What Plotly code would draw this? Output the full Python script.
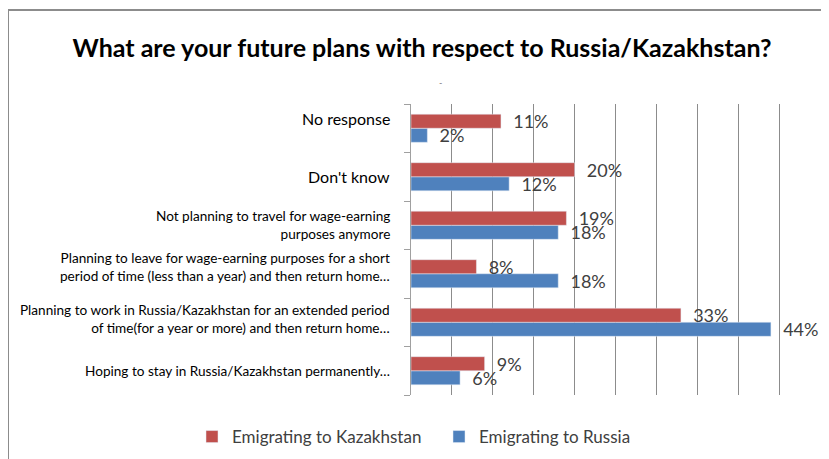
import plotly.graph_objects as go

categories = [
    "Hoping to stay in Russia/Kazakhstan permanently…",
    "Planning to work in Russia/Kazakhstan for an extended period<br>of time(for a year or more) and then return home…",
    "Planning to leave for wage-earning purposes for a short<br>period of time (less than a year) and then return home…",
    "Not planning to travel for wage-earning<br>purposes anymore",
    "Don't know",
    "No response",
]
kazakhstan = [9, 33, 8, 19, 20, 11]
russia = [6, 44, 18, 18, 12, 2]
x_ticks = [0, 5, 10, 15, 20, 25, 30, 35, 40, 45, 50]

# styling for the category labels (vertical nudge in px, font size)
label_yshift = [0, 3, 7, 0, 0, 10]
label_size = [13.6, 13.6, 13.6, 13.6, 16, 16]

label_font = dict(family="Lato", size=18, color="#404040")
PAD = "\u00a0\u00a0"

fig = go.Figure()
fig.add_trace(go.Bar(
    y=categories, x=russia, orientation="h", name="Emigrating to Russia",
    marker=dict(color="#4F81BD"), text=[f"{PAD}{v}%" for v in russia],
    textposition="outside", textfont=label_font, cliponaxis=False,
    constraintext="none", legend="legend2",
))
fig.add_trace(go.Bar(
    y=categories, x=kazakhstan, orientation="h", name="Emigrating to Kazakhstan",
    marker=dict(color="#C0504D"), text=[f"{PAD}{v}%" for v in kazakhstan],
    textposition="outside", textfont=label_font, cliponaxis=False,
    constraintext="none", legend="legend",
))

# page body has an 8px margin, so lay out in reference pixels minus 8
OFF = 8
W, H = 829 - OFF, 459 - OFF
L, R, T, B = 411 - OFF, 820 - OFF, 104 - OFF, 395 - OFF
pw, ph = R - L, B - T

def px(x):
    return (x - OFF - L) / pw

def py(y):
    return (B - (y - OFF)) / ph

legend_font = dict(family="Lato", size=17, color="#404040")

annotations = [dict(text="-", x=px(437), y=py(75), xref="paper", yref="paper",
                    showarrow=False, font=dict(size=9, color="#808080"))]
for cat, ys, fs in zip(categories, label_yshift, label_size):
    annotations.append(dict(
        text=cat, x=0, xref="paper", xanchor="right", xshift=-19,
        y=cat, yref="y", yanchor="middle", yshift=ys, align="right",
        showarrow=False, font=dict(family="Lato", size=fs, color="#000000"),
    ))

fig.update_layout(
    width=W, height=H,
    margin=dict(l=L, r=W - R, t=T, b=H - B, autoexpand=False),
    paper_bgcolor="white", plot_bgcolor="white",
    barmode="group", bargap=0.42, bargroupgap=0,
    font=dict(family="Lato", color="#000000"),
    title=dict(text="<b>What are your future plans with respect to Russia/Kazakhstan?</b>",
               x=px(422), xanchor="center", xref="paper", y=1 - (48 - OFF) / H, yanchor="middle",
               font=dict(family="Lato", size=25, color="#000000")),
    showlegend=True,
    legend=dict(orientation="h", x=px(192), xanchor="left", y=py(437), yanchor="middle",
                font=legend_font, itemwidth=30),
    legend2=dict(orientation="h", x=px(439), xanchor="left", y=py(437), yanchor="middle",
                 font=legend_font, itemwidth=30),
    xaxis=dict(range=[0, 50], tickvals=x_ticks, showticklabels=False, showgrid=True,
               gridcolor="#8C8C8C", gridwidth=1, zeroline=False, showline=False,
               fixedrange=True, automargin=False),
    yaxis=dict(categoryorder="array", categoryarray=categories,
               showticklabels=False, tickson="boundaries", ticks="outside", ticklen=6,
               tickcolor="#A0A0A0", showline=True, linecolor="#A0A0A0", linewidth=1,
               showgrid=False, automargin=False),
    shapes=[dict(type="rect", xref="paper", yref="paper",
                 x0=px(8), x1=px(840), y0=py(10), y1=py(480),
                 line=dict(color="#8C8C8C", width=2), fillcolor="rgba(0,0,0,0)", layer="below")],
    annotations=annotations,
)

fig.write_html("out.html")
